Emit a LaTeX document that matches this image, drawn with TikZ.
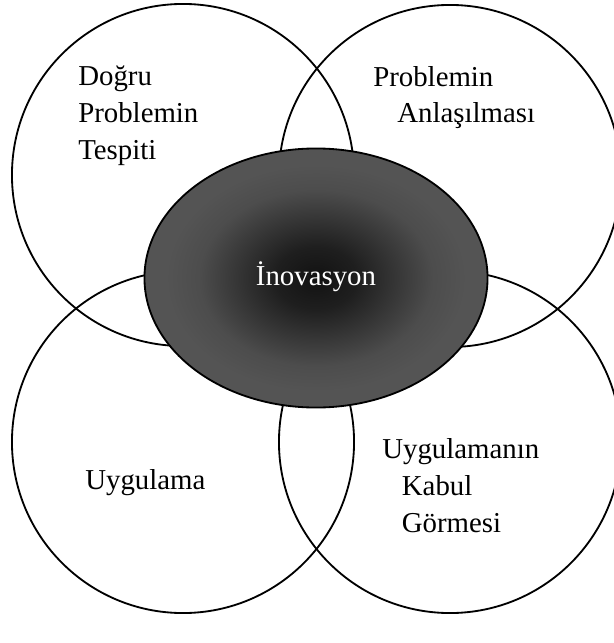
\documentclass[tikz,border=0pt]{standalone}
\usepackage{fontspec}
\setmainfont{Liberation Serif}
\usetikzlibrary{shapes.geometric}
\pgfdeclareradialshading{innoshade}{\pgfpoint{0bp}{0bp}}{color(0bp)=(black!93); color(6bp)=(black!88); color(17bp)=(black!70); color(22bp)=(black!67); color(50bp)=(black!67)}

\begin{document}
\begin{tikzpicture}[
    x=0.025cm, y=-0.025cm,
    every node/.style={font=\fontsize{20.5}{26.3}\selectfont},
    ring/.style={draw, circle, line width=1.3pt, minimum size=8.55cm, inner sep=0pt},
    core/.style={draw, ellipse, line width=1.3pt, minimum width=8.575cm, minimum height=6.475cm, inner sep=0pt, shading=innoshade},
    txt/.style={align=left, anchor=base west, inner sep=0pt}
]
\useasboundingbox (0,0) rectangle (613,643);
\node[ring] (spot) at (183,175) {};
\node[ring] (grasp) at (450,176) {};
\node[ring] (apply) at (183,442) {};
\node[ring] (accept) at (450,442) {};
\node[core] (innov) at (316,278) {};
\node[text=white, anchor=base, inner sep=0pt] (innovtxt) at (316,285) {İnovasyon};
% base anchor sits on the last line
\node[txt] (spottxt) at (78,159.5) {Doğru\\Problemin\\Tespiti};
\node[txt] (grasptxt) at (373,123) {Problemin\\\hspace{0.6cm}Anlaşılması};
\node[txt] (applytxt) at (85,489) {Uygulama};
\node[txt] (accepttxt) at (382,532) {Uygulamanın\\\hspace{0.49cm}Kabul\\\hspace{0.49cm}Görmesi};
\end{tikzpicture}
\end{document}
